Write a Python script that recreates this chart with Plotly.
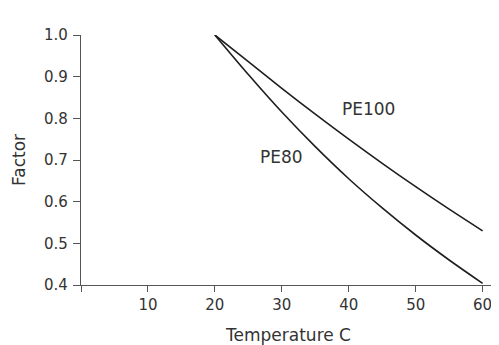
import plotly.graph_objects as go

temperature = [20, 25, 30, 35, 40, 45, 50, 55, 60]
pe100_factor = [1.0, 0.936, 0.872, 0.81, 0.75, 0.692, 0.636, 0.582, 0.53]
pe80_factor = [1.0, 0.905, 0.815, 0.732, 0.655, 0.585, 0.52, 0.46, 0.404]
series_names = ["PE100", "PE80"]
x_tick_vals = [0, 10, 20, 30, 40, 50, 60]
x_tick_text = ["", "10", "20", "30", "40", "50", "60"]
y_tick_vals = [0.4, 0.5, 0.6, 0.7, 0.8, 0.9, 1.0]
y_tick_text = ["0.4", "0.5", "0.6", "0.7", "0.8", "0.9", "1.0"]

line_color = "#1e1e1e"
axis_color = "#555555"
text_color = "#333333"
font_family = "DejaVu Sans, sans-serif"

fig = go.Figure()
for name, ys in zip(series_names, [pe100_factor, pe80_factor]):
    fig.add_trace(go.Scatter(
        x=temperature, y=ys, mode="lines", name=name,
        line=dict(color=line_color, width=1.6, shape="spline", smoothing=1.0),
        cliponaxis=False, showlegend=False,
    ))

fig.add_annotation(x=42.9, y=0.822, text="PE100", showarrow=False,
                   font=dict(size=17, color=text_color, family=font_family))
fig.add_annotation(x=30.0, y=0.707, text="PE80", showarrow=False,
                   font=dict(size=17, color=text_color, family=font_family))

# the page body adds an 8px margin, so the figure is sized to fit the window
fig.update_layout(
    width=491, height=337,
    margin=dict(l=73, r=3, t=27, b=60),
    paper_bgcolor="white", plot_bgcolor="white",
    font=dict(family=font_family, size=15, color=text_color),
    xaxis=dict(
        range=[0, 62], showgrid=False, zeroline=False, automargin=False,
        showline=True, linecolor=axis_color, linewidth=1.3,
        ticks="outside", ticklen=6, tickcolor=axis_color, tickwidth=1.3,
        tickvals=x_tick_vals, ticktext=x_tick_text,
        tickfont=dict(size=15, color=text_color, family=font_family),
        title=dict(text="Temperature C", font=dict(size=17, color=text_color, family=font_family), standoff=16),
    ),
    yaxis=dict(
        range=[0.4, 1.0], showgrid=False, zeroline=False, automargin=False,
        showline=True, linecolor=axis_color, linewidth=1.3,
        ticks="outside", ticklen=7, tickcolor=axis_color, tickwidth=1.3,
        ticklabelstandoff=2,
        tickvals=y_tick_vals, ticktext=y_tick_text,
        tickfont=dict(size=15, color=text_color, family=font_family),
        title=dict(text="Factor", font=dict(size=17, color=text_color, family=font_family), standoff=14),
    ),
)

fig.write_html("out.html")
